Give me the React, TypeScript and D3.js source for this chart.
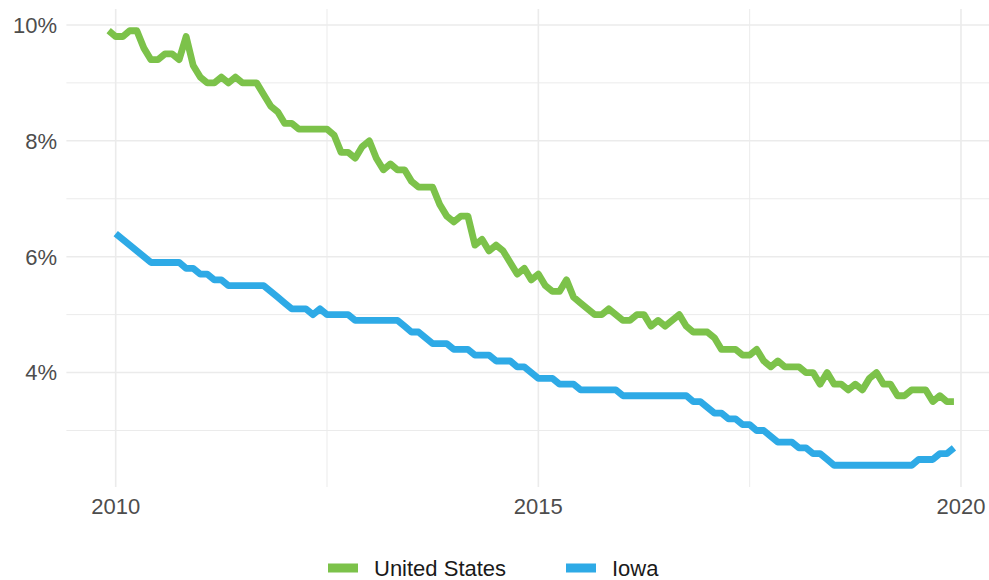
import React from "react";
import * as d3 from "d3";

// Monthly unemployment rate (%), seasonally adjusted
const usStart = { year: 2009, month: 12 };
const usValues = [
  9.9,
  9.8, 9.8, 9.9, 9.9, 9.6, 9.4, 9.4, 9.5, 9.5, 9.4, 9.8, 9.3,
  9.1, 9.0, 9.0, 9.1, 9.0, 9.1, 9.0, 9.0, 9.0, 8.8, 8.6, 8.5,
  8.3, 8.3, 8.2, 8.2, 8.2, 8.2, 8.2, 8.1, 7.8, 7.8, 7.7, 7.9,
  8.0, 7.7, 7.5, 7.6, 7.5, 7.5, 7.3, 7.2, 7.2, 7.2, 6.9, 6.7,
  6.6, 6.7, 6.7, 6.2, 6.3, 6.1, 6.2, 6.1, 5.9, 5.7, 5.8, 5.6,
  5.7, 5.5, 5.4, 5.4, 5.6, 5.3, 5.2, 5.1, 5.0, 5.0, 5.1, 5.0,
  4.9, 4.9, 5.0, 5.0, 4.8, 4.9, 4.8, 4.9, 5.0, 4.8, 4.7, 4.7,
  4.7, 4.6, 4.4, 4.4, 4.4, 4.3, 4.3, 4.4, 4.2, 4.1, 4.2, 4.1,
  4.1, 4.1, 4.0, 4.0, 3.8, 4.0, 3.8, 3.8, 3.7, 3.8, 3.7, 3.9,
  4.0, 3.8, 3.8, 3.6, 3.6, 3.7, 3.7, 3.7, 3.5, 3.6, 3.5, 3.5,
];

const iowaStart = { year: 2010, month: 1 };
const iowaValues = [
  6.4, 6.3, 6.2, 6.1, 6.0, 5.9, 5.9, 5.9, 5.9, 5.9, 5.8, 5.8,
  5.7, 5.7, 5.6, 5.6, 5.5, 5.5, 5.5, 5.5, 5.5, 5.5, 5.4, 5.3,
  5.2, 5.1, 5.1, 5.1, 5.0, 5.1, 5.0, 5.0, 5.0, 5.0, 4.9, 4.9,
  4.9, 4.9, 4.9, 4.9, 4.9, 4.8, 4.7, 4.7, 4.6, 4.5, 4.5, 4.5,
  4.4, 4.4, 4.4, 4.3, 4.3, 4.3, 4.2, 4.2, 4.2, 4.1, 4.1, 4.0,
  3.9, 3.9, 3.9, 3.8, 3.8, 3.8, 3.7, 3.7, 3.7, 3.7, 3.7, 3.7,
  3.6, 3.6, 3.6, 3.6, 3.6, 3.6, 3.6, 3.6, 3.6, 3.6, 3.5, 3.5,
  3.4, 3.3, 3.3, 3.2, 3.2, 3.1, 3.1, 3.0, 3.0, 2.9, 2.8, 2.8,
  2.8, 2.7, 2.7, 2.6, 2.6, 2.5, 2.4, 2.4, 2.4, 2.4, 2.4, 2.4,
  2.4, 2.4, 2.4, 2.4, 2.4, 2.4, 2.5, 2.5, 2.5, 2.6, 2.6, 2.7,
];

const seriesNames = ["United States", "Iowa"];
const seriesColors = ["#7cc24a", "#2eaae6"];
const yMajorTicks = [4, 6, 8, 10];
const yMinorTicks = [3, 5, 7, 9];
const xMajorTicks = [2010, 2015, 2020];
const xMinorTicks = [2012.5, 2017.5];

function toPoints(start: { year: number; month: number }, values: number[]) {
  return values.map((v, i) => ({
    t: start.year + (start.month - 1 + i) / 12,
    v,
  }));
}

export default function App() {
  const W = 989;
  const H = 580;
  const series = [toPoints(usStart, usValues), toPoints(iowaStart, iowaValues)];

  const allT = series.flat().map((d) => d.t);
  const allV = series.flat().map((d) => d.v);
  const tMin = d3.min(allT)!, tMax = d3.max(allT)!;
  const vMin = d3.min(allV)!, vMax = d3.max(allV)!;
  const tPad = (tMax - tMin) * 0.05;
  const vPad = (vMax - vMin) * 0.05;

  const panel = { left: 66.4, right: 996.2, top: 9, bottom: 487 };
  const x = d3.scaleLinear().domain([tMin - tPad, tMax + tPad]).range([panel.left, panel.right]);
  const y = d3.scaleLinear().domain([vMin - vPad, vMax + vPad]).range([panel.bottom, panel.top]);

  const line = d3
    .line<{ t: number; v: number }>()
    .x((d) => x(d.t))
    .y((d) => y(d.v));

  const font = "'Liberation Sans', Arial, sans-serif";
  const textColor = "#4d4d4d";
  const grid = "#ebebeb";

  const legendItems = [
    { x: 328, textX: 374 },
    { x: 566, textX: 612 },
  ];

  return (
    <svg
      width={W}
      height={H}
      style={{ position: "absolute", left: 0, top: 0, background: "#fff" }}
      fontFamily={font}
    >
      <rect x={0} y={0} width={W} height={H} fill="#ffffff" />
      {/* grid */}
      {yMinorTicks.map((t) => (
        <line key={"ym" + t} x1={panel.left} x2={panel.right} y1={y(t)} y2={y(t)} stroke={grid} strokeWidth={1} />
      ))}
      {xMinorTicks.map((t) => (
        <line key={"xm" + t} x1={x(t)} x2={x(t)} y1={panel.top} y2={panel.bottom} stroke={grid} strokeWidth={1} />
      ))}
      {yMajorTicks.map((t) => (
        <line key={"yM" + t} x1={panel.left} x2={panel.right} y1={y(t)} y2={y(t)} stroke={grid} strokeWidth={1.6} />
      ))}
      {xMajorTicks.map((t) => (
        <line key={"xM" + t} x1={x(t)} x2={x(t)} y1={panel.top} y2={panel.bottom} stroke={grid} strokeWidth={1.6} />
      ))}
      {/* lines */}
      {series.map((s, i) => (
        <path
          key={i}
          d={line(s) || ""}
          fill="none"
          stroke={seriesColors[i]}
          strokeWidth={6.8}
          strokeLinejoin="round"
          strokeLinecap="butt"
        />
      ))}
      {/* axis labels */}
      {yMajorTicks.map((t) => (
        <text key={"yl" + t} x={57} y={y(t)} dy="0.36em" textAnchor="end" fontSize={22} fill={textColor}>
          {t}%
        </text>
      ))}
      {xMajorTicks.map((t) => (
        <text key={"xl" + t} x={x(t)} y={514} textAnchor="middle" fontSize={22} fill={textColor}>
          {t}
        </text>
      ))}
      {/* legend */}
      {seriesNames.map((name, i) => (
        <g key={name}>
          <rect x={legendItems[i].x} y={563.5} width={30} height={9} fill={seriesColors[i]} />
          <text x={legendItems[i].textX} y={576} fontSize={22} fill="#1a1a1a">
            {name}
          </text>
        </g>
      ))}
    </svg>
  );
}
